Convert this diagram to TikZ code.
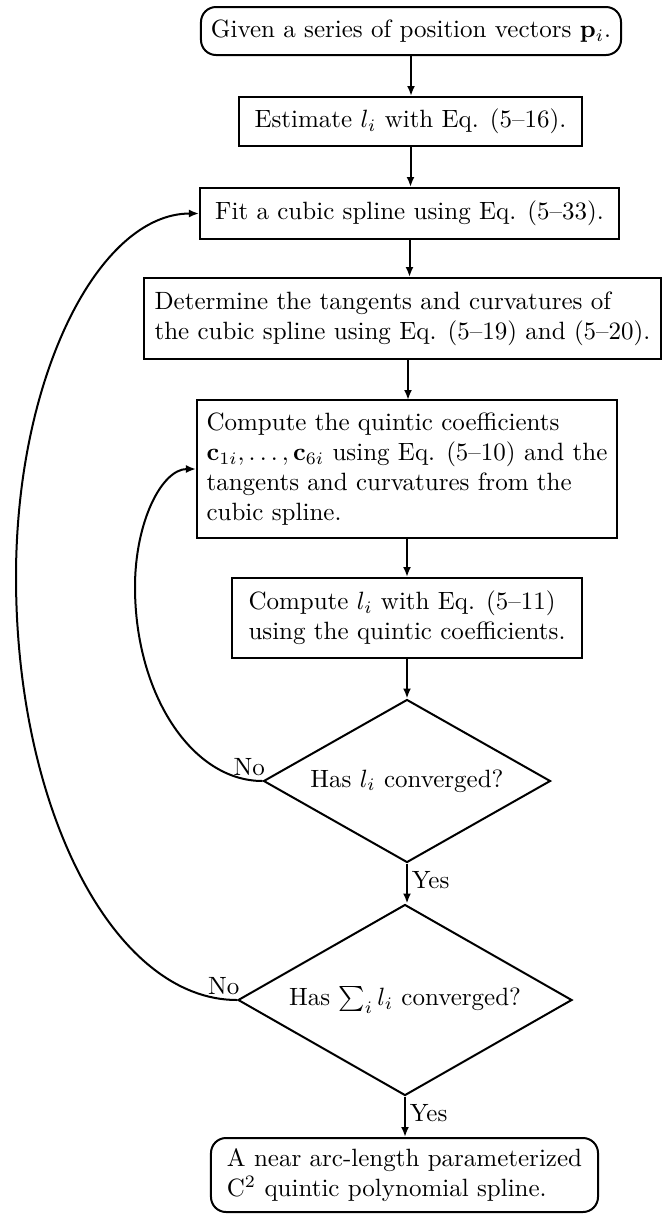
\documentclass[tikz,border=0pt]{standalone}
\usetikzlibrary{shapes.geometric,arrows.meta}
\begin{document}
\begin{tikzpicture}[x=0.4pt,y=-0.4pt,
  proc/.style={draw, line width=0.8pt, align=left, inner sep=2pt},
  term/.style={proc, rounded corners=6pt},
  decide/.style={draw, diamond, aspect=1.76, line width=0.8pt, inner sep=0pt, align=center},
  flow/.style={line width=0.8pt, -{Latex[length=4pt,width=3.2pt]}},
  lab/.style={inner sep=1.5pt},
  nolab/.style={anchor=south east, inner sep=0pt, xshift=1.2pt, yshift=2pt}]
\useasboundingbox (0,0) rectangle (662,1214);

% process steps
\node[term, minimum width=168pt, minimum height=19.2pt] (start) at (411,31)
  {Given a series of position vectors $\mathbf{p}_i$.};
\node[proc, minimum width=137.2pt, minimum height=19.6pt] (est) at (410.5,121.5)
  {Estimate $l_i$ with Eq. (5--16).};
\node[proc, minimum width=167.6pt, minimum height=20.4pt] (fit) at (409.5,213.5)
  {Fit a cubic spline using Eq. (5--33).};
\node[proc, minimum width=206.8pt, minimum height=32.4pt] (tang) at (402.5,318.5)
  {Determine the tangents and curvatures of\\
   the cubic spline using Eq. (5--19) and (5--20).};
\node[proc, minimum width=168pt, minimum height=55.2pt] (quin) at (407,469)
  {Compute the quintic coefficients\\
   $\mathbf{c}_{1i},\ldots,\mathbf{c}_{6i}$ using Eq. (5--10) and the\\
   tangents and curvatures from the\\
   cubic spline.};
\node[proc, minimum width=140pt, minimum height=32pt] (len) at (407,618)
  {Compute $l_i$ with Eq. (5--11)\\
   using the quintic coefficients.};

% decisions
\node[decide, minimum width=114.8pt, minimum height=65.2pt] (d1) at (407,781)
  {Has $l_i$ converged?};
\node[decide, minimum width=133.6pt, minimum height=76.4pt] (d2) at (405,1000)
  {Has $\sum_i l_i$ converged?};

% result
\node[term, minimum width=154.8pt, minimum height=29.6pt] (done) at (404.5,1175)
  {A near arc-length parameterized\\
   C$^2$ quintic polynomial spline.};

% main flow
\draw[flow] (start.south) -- (start.south |- est.north);
\draw[flow] (est.south) -- (est.south |- fit.north);
\draw[flow] (fit.south) -- (fit.south |- tang.north);
\draw[flow] (408,359) -- (408,400);
\draw[flow] (quin.south) -- (quin.south |- len.north);
\draw[flow] (len.south) -- (len.south |- d1.north);
\draw[flow] (d1.south) -- node[lab, right, pos=0.42] {Yes} (d1.south |- d2.north);
\draw[flow] (d2.south) -- node[lab, right, pos=0.4] {Yes} (d2.south |- done.north);

% inner loop: l_i not converged
\coordinate (innerL) at (135,587);
\draw[flow] (d1.west) .. controls +(-70.7,0) and +(0,107) .. (innerL)
  .. controls +(0,-65.2) and +(-34.2,0) .. (quin.west);
\node[nolab] at (d1.west) {No};

% outer loop: sum of l_i not converged
\coordinate (outerL) at (16,577);
\draw[flow] (d2.west) .. controls +(-122.6,0) and +(0,233.6) .. (outerL)
  .. controls +(0,-201) and +(-100,0) .. (fit.west);
\node[nolab] at (d2.west) {No};
\end{tikzpicture}
\end{document}
